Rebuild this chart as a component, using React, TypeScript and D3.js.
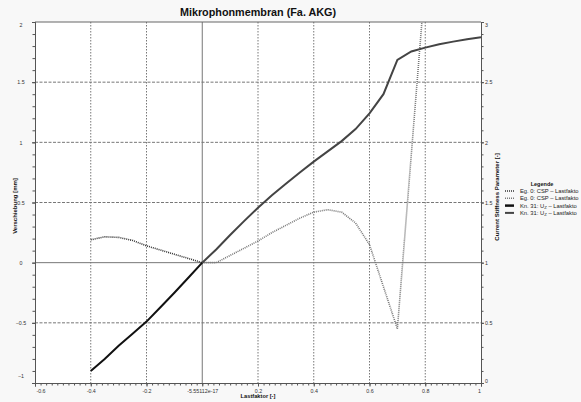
import React, { useRef, useEffect } from 'react';
import * as d3 from 'd3';

// Lastfaktor steps and values
const lastfaktorNeg = [-0.4, -0.35, -0.3, -0.25, -0.2, -0.15, -0.1, -0.05, 0];
const uzNeg = [-0.9, -0.8, -0.69, -0.59, -0.49, -0.37, -0.25, -0.125, 0];
const cspNeg = [1.19, 1.215, 1.21, 1.185, 1.14, 1.105, 1.07, 1.035, 1.0];

const lastfaktorPos = [0, 0.05, 0.1, 0.15, 0.2, 0.25, 0.3, 0.35, 0.4, 0.45, 0.5, 0.55, 0.6, 0.65, 0.7, 0.75, 0.8, 0.85, 0.9, 0.95, 1.0];
const uzPos = [0, 0.11, 0.23, 0.345, 0.457, 0.56, 0.655, 0.75, 0.84, 0.925, 1.01, 1.11, 1.24, 1.4, 1.685, 1.755, 1.787, 1.815, 1.837, 1.857, 1.874];
const cspPos = [1.0, 1.0, 1.06, 1.12, 1.18, 1.25, 1.31, 1.37, 1.42, 1.44, 1.42, 1.33, 1.15, 0.8, 0.45, 1.9, 3.35];

const xTicks = [-0.6, -0.4, -0.2, 0, 0.2, 0.4, 0.6, 0.8, 1];
const xTickLabels = ['-0.6', '-0.4', '-0.2', '-5.55112e-17', '0.2', '0.4', '0.6', '0.8', '1'];
const leftTicks = [-1, -0.5, 0, 0.5, 1, 1.5, 2];
const rightTicks = [0, 0.5, 1, 1.5, 2, 2.5, 3];

// legend text is cut at the window edge in the original
const legendLabels = ['Eg. 0: CSP – Lastfakto', 'Eg. 0: CSP – Lastfakto', 'Kn. 31: U', 'Kn. 31: U'];

const W = 581;
const H = 402;
const FONT = 'Liberation Sans, Arial, sans-serif';

const App = () => {
  const svgRef = useRef<SVGSVGElement>(null);

  useEffect(() => {
    document.body.style.margin = '0';
    const svg = d3.select(svgRef.current);
    svg.selectAll('*').remove();

    const plot = { left: 35, top: 22, right: 481, bottom: 383 };

    const x = d3.scaleLinear().domain([-0.6, 1]).range([plot.left, plot.right]);
    const yL = d3.scaleLinear().domain([-1, 2]).range([plot.bottom, plot.top]);
    const yR = d3.scaleLinear().domain([0, 3]).range([plot.bottom, plot.top]);

    svg.append('rect').attr('width', W).attr('height', H).attr('fill', '#f8f8f8');
    svg.append('rect')
      .attr('x', plot.left).attr('y', plot.top)
      .attr('width', plot.right - plot.left).attr('height', plot.bottom - plot.top)
      .attr('fill', '#fff');

    svg.append('clipPath').attr('id', 'plotclip')
      .append('rect')
      .attr('x', plot.left).attr('y', plot.top)
      .attr('width', plot.right - plot.left).attr('height', plot.bottom - plot.top);

    // grid
    const grid = svg.append('g');
    xTicks.filter((t) => t > -0.6 && t < 1).forEach((t) => {
      grid.append('line')
        .attr('x1', x(t)).attr('x2', x(t))
        .attr('y1', plot.top).attr('y2', plot.bottom)
        .attr('stroke', '#777')
        .attr('stroke-dasharray', t === 0 ? null : '1.5,1.5')
        .attr('stroke-width', 1);
    });
    leftTicks.filter((t) => t > -1 && t < 2).forEach((t) => {
      grid.append('line')
        .attr('x1', plot.left).attr('x2', plot.right)
        .attr('y1', yL(t)).attr('y2', yL(t))
        .attr('stroke', '#777')
        .attr('stroke-dasharray', t === 0 ? null : '3,1.5')
        .attr('stroke-width', 1);
    });

    // top border
    svg.append('line')
      .attr('x1', plot.left).attr('x2', plot.right)
      .attr('y1', plot.top).attr('y2', plot.top)
      .attr('stroke', '#666');

    // series
    const lines = svg.append('g').attr('clip-path', 'url(#plotclip)');
    const lineL = d3.line<[number, number]>().x((d) => x(d[0])).y((d) => yL(d[1]));
    const lineR = d3.line<[number, number]>().x((d) => x(d[0])).y((d) => yR(d[1]));

    const cspNegPts = lastfaktorNeg.map((v, i) => [v, cspNeg[i]] as [number, number]);
    const cspPosPts = cspPos.map((v, i) => [lastfaktorPos[i], v] as [number, number]);
    const uzNegPts = lastfaktorNeg.map((v, i) => [v, uzNeg[i]] as [number, number]);
    const uzPosPts = lastfaktorPos.map((v, i) => [v, uzPos[i]] as [number, number]);

    lines.append('path').attr('d', lineR(cspNegPts)).attr('fill', 'none')
      .attr('stroke', '#333').attr('stroke-width', 1.6).attr('stroke-dasharray', '1,1');
    lines.append('path').attr('d', lineR(cspPosPts)).attr('fill', 'none')
      .attr('stroke', '#777').attr('stroke-width', 1.6).attr('stroke-dasharray', '1,1');
    lines.append('path').attr('d', lineL(uzNegPts)).attr('fill', 'none')
      .attr('stroke', '#111').attr('stroke-width', 2);
    lines.append('path').attr('d', lineL(uzPosPts)).attr('fill', 'none')
      .attr('stroke', '#444').attr('stroke-width', 2);

    // axes
    const styleAxis = (g: any) => {
      g.select('.domain').attr('stroke', '#555');
      g.selectAll('.tick line').attr('stroke', '#555');
      g.selectAll('text').attr('font-family', FONT).attr('font-size', 5.3).attr('fill', '#333');
    };

    const xMinor = d3.range(-0.6, 1.0001, 0.02);
    svg.append('g').attr('transform', `translate(0,${plot.bottom})`)
      .call(d3.axisBottom(x).tickValues(xMinor).tickSize(2.5).tickFormat(() => ''))
      .call(styleAxis);
    const xAxis = svg.append('g').attr('transform', `translate(0,${plot.bottom})`)
      .call(d3.axisBottom(x).tickValues(xTicks).tickSize(3.5).tickPadding(2.5)
        .tickFormat((d, i) => xTickLabels[i]))
      .call(styleAxis);
    xAxis.selectAll('.tick text').attr('dx', (d: any) => (d === -0.6 ? 5.5 : d === 1 ? -2 : 0));

    const yMinor = d3.range(-1, 2.0001, 0.1);
    svg.append('g').attr('transform', `translate(${plot.left},0)`)
      .call(d3.axisLeft(yL).tickValues(yMinor).tickSize(2.5).tickFormat(() => ''))
      .call(styleAxis);
    const yAxisL = svg.append('g').attr('transform', `translate(${plot.left},0)`)
      .call(d3.axisLeft(yL).tickValues(leftTicks).tickSize(3).tickPadding(11).tickFormat(d3.format('')))
      .call(styleAxis);
    yAxisL.selectAll('.tick text').attr('text-anchor', 'middle')
      .attr('dy', (d: any) => (d === 2 ? '0.9em' : d === -1 ? '-1.1em' : '0.32em'));

    const rMinor = d3.range(0, 3.0001, 0.1);
    svg.append('g').attr('transform', `translate(${plot.right},0)`)
      .call(d3.axisRight(yR).tickValues(rMinor).tickSize(2.5).tickFormat(() => ''))
      .call(styleAxis);
    const yAxisR = svg.append('g').attr('transform', `translate(${plot.right},0)`)
      .call(d3.axisRight(yR).tickValues(rightTicks).tickSize(3).tickPadding(1).tickFormat(d3.format('')))
      .call(styleAxis);
    yAxisR.selectAll('.tick text')
      .attr('dy', (d: any) => (d === 3 ? '0.9em' : d === 0 ? '-0.1em' : '0.32em'));

    // titles
    svg.append('text')
      .attr('x', 258).attr('y', 16)
      .attr('text-anchor', 'middle')
      .attr('font-family', FONT).attr('font-size', 10.8).attr('font-weight', 'bold')
      .attr('fill', '#111')
      .text('Mikrophonmembran (Fa. AKG)');

    svg.append('text')
      .attr('x', 258).attr('y', 398)
      .attr('text-anchor', 'middle')
      .attr('font-family', FONT).attr('font-size', 5.7).attr('font-weight', 'bold')
      .attr('fill', '#111')
      .text('Lastfaktor [-]');

    svg.append('text')
      .attr('transform', 'translate(17,206) rotate(-90)')
      .attr('text-anchor', 'middle')
      .attr('font-family', FONT).attr('font-size', 6).attr('font-weight', 'bold')
      .attr('fill', '#111')
      .text('Verschiebung [mm]');

    svg.append('text')
      .attr('transform', 'translate(499,197) rotate(-90)')
      .attr('text-anchor', 'middle')
      .attr('font-family', FONT).attr('font-size', 6).attr('font-weight', 'bold')
      .attr('fill', '#111')
      .text('Current Stiffness Parameter [-]');

    // legend
    const legend = svg.append('g');
    legend.append('text')
      .attr('x', 542).attr('y', 186)
      .attr('text-anchor', 'middle')
      .attr('font-family', FONT).attr('font-size', 5.5).attr('font-weight', 'bold')
      .attr('fill', '#111')
      .text('Legende');

    const legendStyles = [
      { stroke: '#333', width: 1.6, dash: '1,1' },
      { stroke: '#777', width: 1.6, dash: '1,1' },
      { stroke: '#111', width: 2.5, dash: null },
      { stroke: '#444', width: 2, dash: null },
    ];
    legendLabels.forEach((label, i) => {
      const yy = 193 + i * 7.3;
      legend.append('line')
        .attr('x1', 505).attr('x2', 514)
        .attr('y1', yy - 2).attr('y2', yy - 2)
        .attr('stroke', legendStyles[i].stroke)
        .attr('stroke-width', legendStyles[i].width)
        .attr('stroke-dasharray', legendStyles[i].dash);
      const t = legend.append('text')
        .attr('x', 520).attr('y', yy)
        .attr('font-family', FONT).attr('font-size', 5.8)
        .attr('fill', '#222')
        .text(label);
      if (i >= 2) {
        t.append('tspan').attr('font-size', 4.3).attr('dy', 1.2).text('Z');
        t.append('tspan').attr('dy', -1.2).text(' – Lastfakto');
      }
    });
  }, []);

  return <svg ref={svgRef} width={W} height={H} style={{ display: 'block' }} />;
};

export default App;
